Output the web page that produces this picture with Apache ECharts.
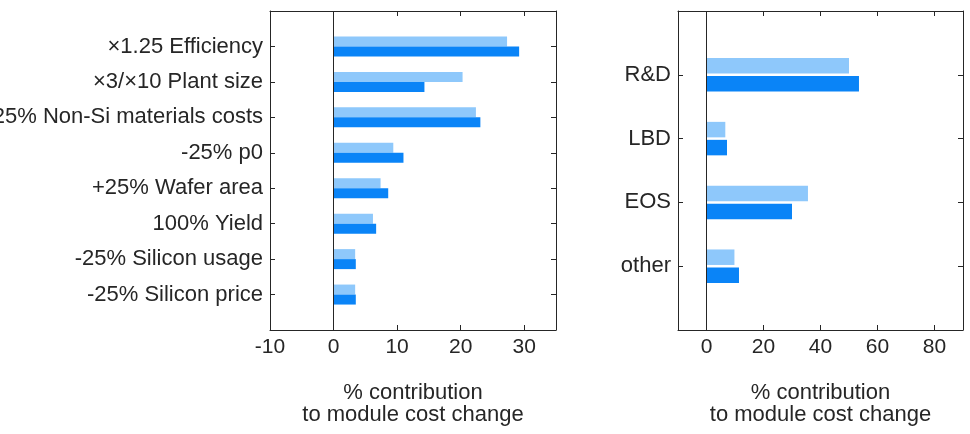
<!DOCTYPE html>
<html>
<head>
<meta charset="utf-8">
<script src="https://cdn.jsdelivr.net/npm/echarts@6/dist/echarts.min.js"></script>
<style>
  html, body { margin: 0; padding: 0; background: #fff; }
  #chart { width: 970px; height: 434px; }
</style>
</head>
<body>
<div id="chart"></div>
<script>
// left panel: factors
var factorNames = ['\u00d71.25 Efficiency', '\u00d73/\u00d710 Plant size', '-25% Non-Si materials costs', '-25% p0',
  '+25% Wafer area', '100% Yield', '-25% Silicon usage', '-25% Silicon price'];
var factorLight = [27.3, 20.3, 22.4, 9.4, 7.4, 6.2, 3.4, 3.4];
var factorDark = [29.2, 14.3, 23.1, 11.0, 8.6, 6.7, 3.5, 3.5];
var leftTicks = [-10, 0, 10, 20, 30];

// right panel: mechanisms
var mechNames = ['R&D', 'LBD', 'EOS', 'other'];
var mechLight = [50.0, 6.6, 35.6, 9.8];
var mechDark = [53.5, 7.2, 30.0, 11.4];
var rightTicks = [0, 20, 40, 60, 80];

var axisTitle = '% contribution\nto module cost change';
var lightColor = '#8ec8fb';
var darkColor = '#0a84f7';
var ink = '#262626';
var font = "'Liberation Sans', Arial, sans-serif";

// pad categories so ticks sit at 1..n inside limits 0..n+1
function padded(list) {
  return [''].concat(list).concat(['']);
}
function padVals(list) {
  return [null].concat(list).concat([null]);
}

function xAxes(gridIndex, min, max, ticks) {
  var bottom = {
    type: 'value', gridIndex: gridIndex, min: min, max: max, position: 'bottom',
    name: axisTitle, nameLocation: 'middle', nameGap: 52,
    nameTextStyle: { color: ink, fontSize: 22, fontFamily: font, lineHeight: 22 },
    axisLine: { show: true, lineStyle: { color: ink, width: 1 } },
    axisTick: { show: true, inside: true, length: 5, customValues: ticks, lineStyle: { color: ink } },
    axisLabel: { customValues: ticks, color: ink, fontSize: 21, fontFamily: font, margin: 7 },
    splitLine: { show: false }
  };
  var top = {
    type: 'value', gridIndex: gridIndex, min: min, max: max, position: 'top',
    axisLine: { show: true, lineStyle: { color: ink, width: 1 } },
    axisTick: { show: true, inside: true, length: 5, customValues: ticks, lineStyle: { color: ink } },
    axisLabel: { show: false },
    splitLine: { show: false }
  };
  return [bottom, top];
}

function yAxes(gridIndex, cats) {
  var left = {
    type: 'category', gridIndex: gridIndex, data: padded(cats), inverse: true,
    boundaryGap: false, position: 'left',
    axisLine: { show: true, onZero: false, lineStyle: { color: ink, width: 1 } },
    axisTick: { show: true, inside: true, length: 5, lineStyle: { color: ink } },
    axisLabel: { color: ink, fontSize: 22, fontFamily: font, margin: 7, interval: 0 },
    splitLine: { show: false }
  };
  var right = {
    type: 'category', gridIndex: gridIndex, data: padded(cats), inverse: true,
    boundaryGap: false, position: 'right',
    axisLine: { show: true, onZero: false, lineStyle: { color: ink, width: 1 } },
    axisTick: { show: true, inside: true, length: 5, lineStyle: { color: ink } },
    axisLabel: { show: false },
    splitLine: { show: false }
  };
  return [left, right];
}

var zeroLine = {
  silent: true, symbol: 'none', label: { show: false },
  lineStyle: { color: ink, type: 'solid', width: 1 },
  emphasis: { disabled: true },
  data: [{ xAxis: 0 }]
};

var myChart = echarts.init(document.getElementById('chart'));
var option = {
  animation: false,
  backgroundColor: '#fff',
  grid: [
    { left: 270, right: 414, top: 11, bottom: 104, outerBoundsMode: 'none' },
    { left: 678, right: 7, top: 11, bottom: 104, outerBoundsMode: 'none' }
  ],
  xAxis: xAxes(0, -10, 35, leftTicks).concat(xAxes(1, -10, 90, rightTicks)),
  yAxis: yAxes(0, factorNames).concat(yAxes(1, mechNames)),
  series: [
    {
      type: 'bar', xAxisIndex: 0, yAxisIndex: 0, data: padVals(factorLight),
      barWidth: 10, barGap: '0%', itemStyle: { color: lightColor },
      markLine: zeroLine
    },
    {
      type: 'bar', xAxisIndex: 0, yAxisIndex: 0, data: padVals(factorDark),
      barWidth: 10, barGap: '0%', itemStyle: { color: darkColor }
    },
    {
      type: 'bar', xAxisIndex: 2, yAxisIndex: 2, data: padVals(mechLight),
      barWidth: 15.5, barGap: '16%', itemStyle: { color: lightColor },
      markLine: zeroLine
    },
    {
      type: 'bar', xAxisIndex: 2, yAxisIndex: 2, data: padVals(mechDark),
      barWidth: 15.5, barGap: '16%', itemStyle: { color: darkColor }
    }
  ]
};
myChart.setOption(option);
</script>
</body>
</html>
